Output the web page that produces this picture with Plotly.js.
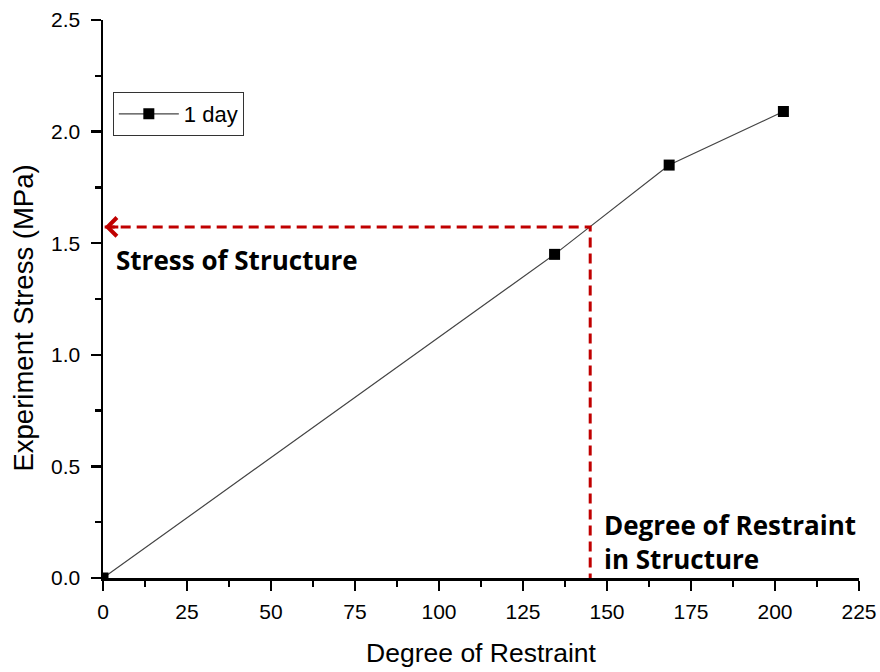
<!DOCTYPE html>
<html>
<head>
<meta charset="utf-8">
<script src="https://cdn.plot.ly/plotly-3.0.1.min.js"></script>
<style>html,body{margin:0;padding:0;background:#fff;}#chart{width:880px;height:672px;}</style>
</head>
<body>
<div id="chart"></div>
<script>
// Data
const restraint = [0, 134.4, 168.5, 202.5];
const stress = [0, 1.45, 1.85, 2.09];
const seriesName = '1 day';
// Reference values (structure)
const structRestraint = 145;
const structStress = 1.573;
const xTickVals = [0, 25, 50, 75, 100, 125, 150, 175, 200, 225];
const yTickVals = [0, 0.5, 1.0, 1.5, 2.0, 2.5];
const xTitle = 'Degree of Restraint';
const yTitle = 'Experiment Stress (MPa)';

const red = '#c00000';
const boldFont = {family: 'Open Sans, Noto Sans, sans-serif', size: 26, color: '#000', weight: 'bold'};

const traces = [
  {
    x: restraint, y: stress, name: seriesName, type: 'scatter', mode: 'lines+markers',
    line: {color: '#444', width: 1.2},
    marker: {symbol: 'square', size: 11, color: '#000'}
  },
  {
    x: [0.5, structRestraint, structRestraint], y: [structStress, structStress, 0],
    type: 'scatter', mode: 'lines', showlegend: false, hoverinfo: 'skip',
    line: {color: red, width: 3, dash: '10px,6px'}
  }
];

const layout = {
  width: 880, height: 672,
  margin: {l: 103, r: 21, t: 20, b: 94},
  paper_bgcolor: '#fff', plot_bgcolor: '#fff',
  font: {family: 'Liberation Sans, Arial, sans-serif', color: '#000'},
  showlegend: true,
  legend: {
    x: 0.013, y: 0.8315, xanchor: 'left', yanchor: 'middle',
    bordercolor: '#333', borderwidth: 1, bgcolor: '#fff',
    font: {size: 22, family: 'Liberation Sans, Arial, sans-serif'},
    itemwidth: 60, tracegroupgap: 0
  },
  xaxis: {
    range: [0, 225], tickvals: xTickVals, ticktext: xTickVals.map(String),
    showgrid: false, zeroline: false, showline: true, linecolor: '#000', linewidth: 2.5,
    ticks: 'outside', ticklen: 10, tickwidth: 2.5, tickcolor: '#000',
    tickfont: {size: 21}, ticklabelstandoff: 3,
    minor: {dtick: 12.5, tick0: 0, ticks: 'outside', ticklen: 6, tickwidth: 2.5, tickcolor: '#000', showgrid: false},
    title: {text: xTitle, font: {size: 26.5}, standoff: 22}
  },
  yaxis: {
    range: [0, 2.5], tickvals: yTickVals, ticktext: yTickVals.map(v => v.toFixed(1)),
    showgrid: false, zeroline: false, showline: true, linecolor: '#000', linewidth: 2.5,
    ticks: 'outside', ticklen: 10, tickwidth: 2.5, tickcolor: '#000',
    tickfont: {size: 21}, ticklabelstandoff: 6,
    minor: {dtick: 0.25, tick0: 0, ticks: 'outside', ticklen: 6, tickwidth: 2.5, tickcolor: '#000', showgrid: false}
  },
  annotations: [
    {
      x: -0.1045, y: 0.4668, xref: 'paper', yref: 'paper', xanchor: 'center', yanchor: 'middle',
      showarrow: false, textangle: -90, text: yTitle, font: {size: 27.5}
    },
    {
      x: 0.5, y: structStress, xref: 'x', yref: 'y',
      ax: 5, ay: structStress, axref: 'x', ayref: 'y',
      showarrow: true, arrowhead: 4, arrowsize: 1.2, arrowwidth: 3, arrowcolor: red, text: ''
    },
    {
      x: 3.4, y: 1.425, xref: 'x', yref: 'y', xanchor: 'left', yanchor: 'middle',
      showarrow: false, text: 'Stress of Structure', font: boldFont
    },
    {
      x: 148.6, y: 0.16, xref: 'x', yref: 'y', xanchor: 'left', yanchor: 'middle',
      showarrow: false, align: 'left', text: 'Degree of Restraint<br>in Structure', font: boldFont
    }
  ]
};

Plotly.newPlot('chart', traces, layout, {displayModeBar: false, staticPlot: true});
</script>
</body>
</html>
